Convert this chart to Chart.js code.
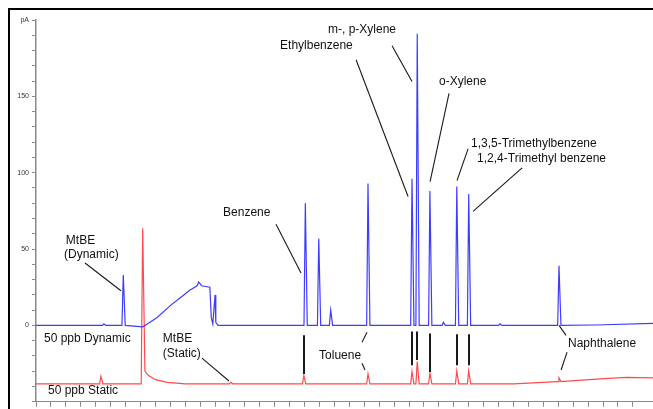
<!DOCTYPE html>
<html>
<head>
<meta charset="utf-8">
<script src="https://cdn.jsdelivr.net/npm/chart.js@4.4.1/dist/chart.umd.min.js"></script>
<style>
  html, body { margin: 0; padding: 0; background: #fff; overflow: hidden; }
  canvas { display: block; }
</style>
</head>
<body>
<canvas id="grafico" width="653" height="409"></canvas>
<script>

// 50 ppb Dynamic (azul): picos estreitos
const dinTempos = [0.91, 1.17, 3.61, 3.79, 3.95, 4.45, 5.04, 5.11, 5.28, 5.46, 5.64, 5.80, 6.22, 7.01];
const dinAlturas = [1, 33, 80, 57, 10, 93, 96, 191, 88, 2, 91, 86, 1, 39];
// contorno da linha de base (inclui a banda larga do solvente)
const dinContorno = [
  [0, 0], [1.43, -1], [1.46, 0], [1.62, 5], [1.80, 13], [1.93, 18], [2.06, 23],
  [2.16, 26], [2.18, 28.5], [2.22, 26], [2.33, 25], [2.35, 5], [2.37, 1],
  [2.40, 20], [2.41, 2], [2.44, 0], [7.5, 0.3], [8.27, 1.3]
];

// 50 ppb Static (vermelho)
const staTempos = [0.87, 2.61, 3.59, 4.45, 5.04, 5.11, 5.28, 5.64, 5.80, 7.01];
const staAlturas = [5, 1, 5.5, 6.5, 8, 14.5, 7, 8.5, 8.5, 2.5];
const staContorno = [
  [0, -38.3], [1.41, -38.3], [1.43, 63.6], [1.46, -30], [1.50, -32.5],
  [1.60, -35.5], [1.76, -37.3], [2.0, -38.2], [6.4, -38.2], [7.0, -36.8],
  [7.56, -35], [7.92, -34], [8.27, -34.3]
];

// marcas do eixo Y
const rotulosY = { 0: '0', 50: '50', 100: '100', 150: '150', 200: 'pA' };

// textos e linhas de chamada (em unidades dos dados)
const textos = [
  ['MtBE', 0.40, 55.2], ['(Dynamic)', 0.375, 46.1],
  ['50 ppb Dynamic', 0.107, -8.4], ['50 ppb Static', 0.161, -42.9],
  ['MtBE', 1.70, -8.4], ['(Static)', 1.70, -18.2],
  ['Benzene', 2.507, 74.0], ['Toluene', 3.794, -19.5],
  ['Ethylbenzene', 3.271, 183.1], ['m-, p-Xylene', 3.914, 193.5],
  ['o-Xylene', 5.402, 159.7], ['1,3,5-Trimethylbenzene', 5.831, 118.8],
  ['1,2,4-Trimethyl benzene', 5.912, 109.1], ['Naphthalene', 7.131, -11.7]
];
const chamadas = [
  [0.657, 40.9, 1.139, 22.7], [2.225, -21.4, 2.587, -36.4],
  [3.217, 66.2, 3.552, 34.4], [4.437, -4.5, 4.370, -11.0],
  [4.370, -24.7, 4.410, -29.2], [4.290, 174.0, 4.987, 84.4],
  [4.772, 183.1, 5.040, 159.7], [5.536, 151.9, 5.282, 94.2],
  [5.791, 115.6, 5.643, 94.8], [6.515, 103.2, 5.858, 74.7],
  [7.011, 0, 7.105, -6.5], [7.118, -17.5, 7.038, -29.2]
];
const barras = [
  [3.592, -6.5, -31.8], [5.040, -3.9, -26.0], [5.107, -3.9, -22.7],
  [5.282, -5.2, -30.5], [5.643, -5.8, -26.0], [5.804, -5.8, -26.0]
];

// Monta o traçado: contorno + picos triangulares sobre a linha de base
function montarTracado(contorno, tempos, alturas) {
  const pontos = contorno.map(([x, y]) => ({ x, y }));
  tempos.forEach((t, i) => {
    let base = contorno[0][1];
    contorno.forEach(([x, y]) => { if (x <= t) base = y; });
    pontos.push({ x: t - 0.018, y: base });
    pontos.push({ x: t, y: base + alturas[i] });
    pontos.push({ x: t + 0.026, y: base });
  });
  return pontos.sort((a, b) => a.x - b.x);
}

const anotacoes = {
  id: 'anotacoes',
  afterDatasetsDraw(chart) {
    const { ctx, scales: { x, y } } = chart;
    ctx.save();
    ctx.strokeStyle = '#1a1a1a';
    ctx.lineWidth = 1.1;
    chamadas.forEach(([t1, v1, t2, v2]) => {
      ctx.beginPath();
      ctx.moveTo(x.getPixelForValue(t1), y.getPixelForValue(v1));
      ctx.lineTo(x.getPixelForValue(t2), y.getPixelForValue(v2));
      ctx.stroke();
    });
    ctx.lineWidth = 2;
    barras.forEach(([t, v1, v2]) => {
      const px = Math.round(x.getPixelForValue(t));
      ctx.beginPath();
      ctx.moveTo(px, y.getPixelForValue(v1));
      ctx.lineTo(px, y.getPixelForValue(v2));
      ctx.stroke();
    });
    ctx.font = '12px "Liberation Sans", Arial, sans-serif';
    ctx.fillStyle = '#111';
    ctx.textBaseline = 'middle';
    textos.forEach(([txt, t, v]) => {
      ctx.fillText(txt, x.getPixelForValue(t), y.getPixelForValue(v));
    });
    ctx.restore();
  },
  afterDraw(chart) {
    // moldura preta do quadro
    const ctx = chart.ctx;
    ctx.save();
    ctx.fillStyle = '#000';
    ctx.fillRect(8, 8, chart.width, 2);
    ctx.fillRect(8, 8, 2, chart.height);
    ctx.restore();
  }
};

const ctx = document.getElementById('grafico').getContext('2d');
new Chart(ctx, {
  type: 'line',
  data: {
    datasets: [{
      label: '50 ppb Dynamic',
      data: montarTracado(dinContorno, dinTempos, dinAlturas),
      borderColor: '#3d3dff',
      borderWidth: 1.2,
      pointRadius: 0,
      tension: 0
    }, {
      label: '50 ppb Static',
      data: montarTracado(staContorno, staTempos, staAlturas),
      borderColor: '#ff4a4a',
      borderWidth: 1.2,
      pointRadius: 0,
      tension: 0
    }]
  },
  options: {
    responsive: false,
    animation: false,
    devicePixelRatio: 1,
    layout: { padding: { top: 20, left: 0, right: 0, bottom: 0 } },
    plugins: { legend: { display: false }, tooltip: { enabled: false } },
    scales: {
      x: {
        type: 'linear',
        min: 0,
        max: 8.27,
        afterFit: s => { s.height = 4; },
        border: { color: '#8a8a8a', width: 1 },
        grid: { drawOnChartArea: false, tickLength: 5, color: '#8a8a8a' },
        ticks: { stepSize: 0.2, autoSkip: false, display: false }
      },
      y: {
        min: -50,
        max: 200,
        afterFit: s => { s.width = 36; },
        border: { color: '#8a8a8a', width: 1.5 },
        grid: { drawOnChartArea: false, tickLength: 4, color: '#8a8a8a' },
        ticks: {
          stepSize: 10,
          autoSkip: false,
          padding: 3,
          color: '#333',
          font: { family: 'Liberation Sans, Arial, sans-serif', size: 7 },
          callback: v => rotulosY[v] || ''
        }
      }
    }
  },
  plugins: [anotacoes]
});
</script>
</body>
</html>
